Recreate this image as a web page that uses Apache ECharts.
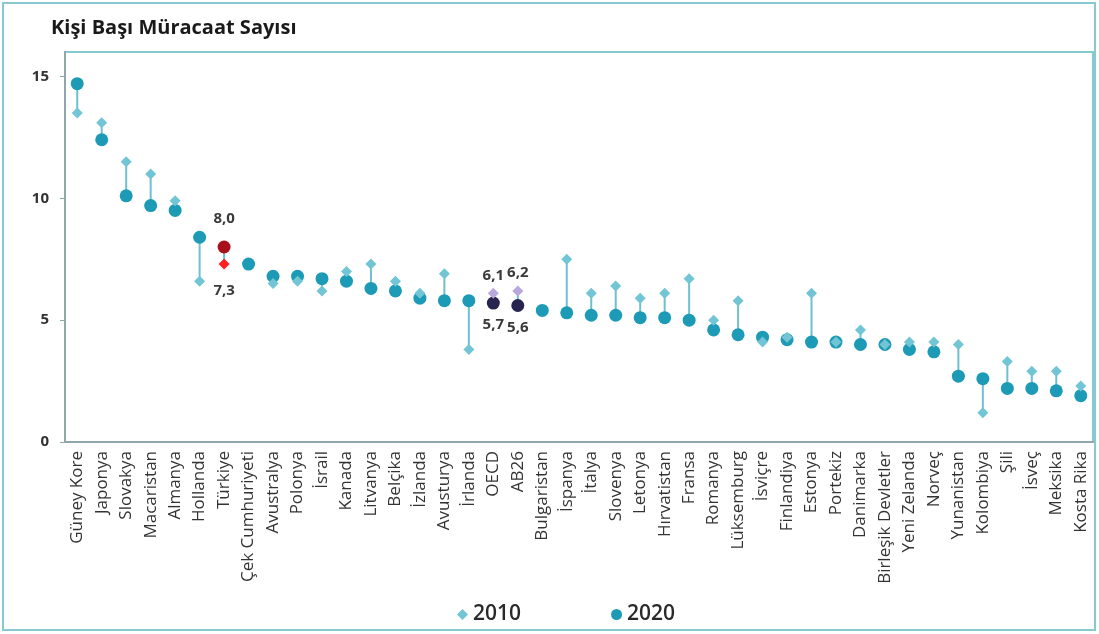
<!DOCTYPE html>
<html>
    <head>
        <meta charset="utf-8" />
        <title>Kişi Başı Müracaat Sayısı</title>
        <script src="https://cdn.jsdelivr.net/npm/echarts@6/dist/echarts.min.js"></script>
        <style>
            html, body { margin: 0; padding: 0; background: #fff; }
        </style>
    </head>
    <body>
        <div id="main" style="width: 1099px;height: 634px;"></div>
        <script type="text/javascript">
            const categories = [
                "Güney Kore", "Japonya", "Slovakya", "Macaristan", "Almanya", "Hollanda", "Türkiye",
                "Çek Cumhuriyeti", "Avustralya", "Polonya", "İsrail", "Kanada", "Litvanya", "Belçika",
                "İzlanda", "Avusturya", "İrlanda", "OECD", "AB26", "Bulgaristan", "İspanya", "İtalya",
                "Slovenya", "Letonya", "Hırvatistan", "Fransa", "Romanya", "Lüksemburg", "İsviçre",
                "Finlandiya", "Estonya", "Portekiz", "Danimarka", "Birleşik Devletler", "Yeni Zelanda",
                "Norveç", "Yunanistan", "Kolombiya", "Şili", "İsveç", "Meksika", "Kosta Rika"
            ];
            // Çek Cumhuriyeti ve Bulgaristan için 2010 işareti görünmüyor
            const v2010 = [13.5, 13.1, 11.5, 11.0, 9.9, 6.6, 7.3, null, 6.5, 6.6, 6.2, 7.0, 7.3, 6.6,
                6.1, 6.9, 3.8, 6.1, 6.2, null, 7.5, 6.1, 6.4, 5.9, 6.1, 6.7, 5.0, 5.8, 4.1, 4.3, 6.1,
                4.1, 4.6, 4.0, 4.1, 4.1, 4.0, 1.2, 3.3, 2.9, 2.9, 2.3];
            const v2020 = [14.7, 12.4, 10.1, 9.7, 9.5, 8.4, 8.0, 7.3, 6.8, 6.8, 6.7, 6.6, 6.3, 6.2,
                5.9, 5.8, 5.8, 5.7, 5.6, 5.4, 5.3, 5.2, 5.2, 5.1, 5.1, 5.0, 4.6, 4.4, 4.3, 4.2, 4.1,
                4.1, 4.0, 4.0, 3.8, 3.7, 2.7, 2.6, 2.2, 2.2, 2.1, 1.9];
            const yTicks = [0, 5, 10, 15];

            // vurgulanan ülkeler / ortalamalar
            const highlight = {
                "Türkiye": { c2010: "#ff2121", c2020: "#a8101c" },
                "OECD": { c2010: "#b9a8dd", c2020: "#27244f" },
                "AB26": { c2010: "#b9a8dd", c2020: "#27244f" }
            };

            const C2010 = "#72c5d4";
            const C2020 = "#1d9bb6";
            const LINE = "#6fc0cf";

            const fmt = (v) => v.toFixed(1).replace('.', ',');

            const labelFor = (name, mine, other) => {
                if (!highlight[name]) return undefined;
                const up = mine >= other;
                const isOecd = name !== "Türkiye";
                return {
                    show: true,
                    position: up ? 'top' : 'bottom',
                    distance: isOecd ? (up ? 5 : 8) : 14,
                    formatter: fmt(mine),
                    fontSize: 15,
                    fontWeight: 'bold',
                    fontFamily: 'Open Sans',
                    color: '#3a3a3a'
                };
            };

            const d2010 = categories.map((name, i) => {
                if (v2010[i] == null) return '-';
                const item = { value: v2010[i] };
                if (highlight[name]) {
                    item.itemStyle = { color: highlight[name].c2010 };
                    item.label = labelFor(name, v2010[i], v2020[i]);
                }
                return item;
            });
            const d2020 = categories.map((name, i) => {
                const item = { value: v2020[i] };
                if (highlight[name]) {
                    item.itemStyle = { color: highlight[name].c2020 };
                    item.label = labelFor(name, v2020[i], v2010[i]);
                }
                return item;
            });
            const rangeData = categories
                .map((name, i) => [i, v2010[i], v2020[i]])
                .filter((d) => d[1] != null);

            const myChart = echarts.init(document.getElementById('main'));

            const option = {
                animation: false,
                textStyle: { fontFamily: 'Open Sans' },
                title: {
                    text: 'Kişi Başı Müracaat Sayısı',
                    left: 46,
                    top: 13,
                    textStyle: {
                        color: '#1a1a1a',
                        fontSize: 20,
                        fontWeight: 'bold',
                        fontFamily: 'Open Sans'
                    }
                },
                graphic: [{
                    type: 'rect',
                    shape: { x: 3, y: 3, width: 1092, height: 627 },
                    style: { fill: 'none', stroke: '#86c9d1', lineWidth: 2 },
                    silent: true
                }],
                legend: {
                    left: 452,
                    top: 599,
                    itemGap: 90,
                    itemWidth: 11,
                    itemHeight: 11,
                    data: [
                        { name: '2010', icon: 'diamond', itemStyle: { color: C2010 } },
                        { name: '2020', icon: 'circle', itemStyle: { color: C2020 } }
                    ],
                    textStyle: {
                        color: '#2a2a2a',
                        fontSize: 21,
                        fontWeight: 600,
                        fontFamily: 'Open Sans'
                    }
                },
                grid: {
                    left: 65,
                    right: 6,
                    top: 52,
                    bottom: 192,
                    show: true,
                    borderColor: '#86c9d1',
                    borderWidth: 2
                },
                xAxis: {
                    type: 'category',
                    data: categories,
                    boundaryGap: true,
                    axisLine: { lineStyle: { color: '#8fa6ab', width: 2 } },
                    axisTick: { length: 5, lineStyle: { color: '#8fa6ab' } },
                    axisLabel: {
                        rotate: 90,
                        interval: 0,
                        margin: 9,
                        fontSize: 17,
                        color: '#333',
                        fontFamily: 'Open Sans'
                    }
                },
                yAxis: {
                    type: 'value',
                    min: 0,
                    max: 16,
                    interval: 5,
                    splitLine: { show: false },
                    axisLine: { show: true, lineStyle: { color: '#8fa6ab', width: 2 } },
                    axisTick: { show: true, length: 5, customValues: yTicks, lineStyle: { color: '#8fa6ab' } },
                    axisLabel: {
                        customValues: yTicks,
                        margin: 16,
                        fontSize: 15,
                        fontWeight: 'bold',
                        color: '#333',
                        fontFamily: 'Open Sans'
                    }
                },
                series: [
                    {
                        type: 'custom',
                        name: 'aralik',
                        data: rangeData,
                        encode: { x: 0, y: [1, 2] },
                        z: 1,
                        silent: true,
                        renderItem: (params, api) => {
                            const a = api.coord([api.value(0), api.value(1)]);
                            const b = api.coord([api.value(0), api.value(2)]);
                            return {
                                type: 'line',
                                shape: { x1: a[0], y1: a[1], x2: b[0], y2: b[1] },
                                style: { stroke: LINE, lineWidth: 2 }
                            };
                        }
                    },
                    {
                        type: 'scatter',
                        name: '2020',
                        symbol: 'circle',
                        symbolSize: 13,
                        z: 2,
                        itemStyle: { color: C2020, opacity: 1 },
                        data: d2020
                    },
                    {
                        type: 'scatter',
                        name: '2010',
                        symbol: 'diamond',
                        symbolSize: 11,
                        z: 3,
                        itemStyle: { color: C2010, opacity: 1 },
                        data: d2010
                    }
                ]
            };
            myChart.setOption(option);
        </script>
    </body>
</html>
